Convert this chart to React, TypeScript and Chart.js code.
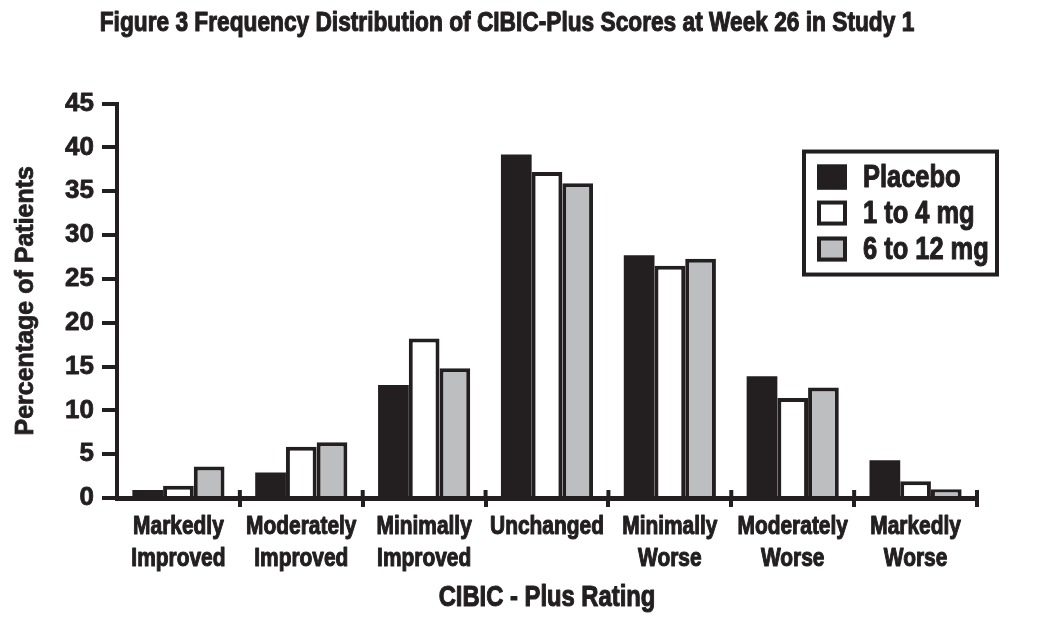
import React, { useEffect, useRef } from 'react';
import { Chart, registerables } from 'chart.js';

Chart.register(...registerables);

const TITLE = 'Figure 3 Frequency Distribution of CIBIC-Plus Scores at Week 26 in Study 1';
const CATEGORIES: (string | string[])[] = [
  ['Markedly', 'Improved'],
  ['Moderately', 'Improved'],
  ['Minimally', 'Improved'],
  'Unchanged',
  ['Minimally', 'Worse'],
  ['Moderately', 'Worse'],
  ['Markedly', 'Worse'],
];
const SERIES_NAMES = ['Placebo', '1 to 4 mg', '6 to 12 mg'];
const PLACEBO = [0.9, 2.9, 12.9, 39.2, 27.7, 13.9, 4.3];
const LOW_DOSE = [1.4, 5.85, 18.2, 37.2, 26.5, 11.4, 1.9];
const HIGH_DOSE = [3.6, 6.35, 14.8, 35.9, 27.3, 12.6, 1.0];
const Y_MIN = 0;
const Y_MAX = 45;
const Y_STEP = 5;
const X_TITLE = 'CIBIC - Plus Rating';
const Y_TITLE = 'Percentage of Patients';

const INK = '#231f20';
const GRAY = '#bcbec0';
const WHITE = '#ffffff';
// "Liberation Sans Narrow" is not installed; text in this family is drawn with
// Liberation Sans compressed horizontally (see installTextStyle).
const NARROW = '"Liberation Sans Narrow", "Liberation Sans", Arial, sans-serif';
const NARROW_FACTOR = 0.82;
const SANS = '"Liberation Sans", Arial, sans-serif';

function installTextStyle(ctx: any) {
  if (ctx.__textPatched) return;
  ctx.__textPatched = true;
  const origFill = ctx.fillText;
  ctx.fillText = function (text: string, x: number, y: number) {
    const narrow = String(this.font).indexOf('Narrow') !== -1;
    this.save();
    this.translate(x, y);
    if (narrow) this.scale(NARROW_FACTOR, 1);
    origFill.call(this, text, 0, 0);
    // a thin outline in the text colour gives the heavier weight of the original face
    this.strokeStyle = this.fillStyle;
    this.lineJoin = 'round';
    this.lineWidth = narrow ? 1.1 : 0.8;
    this.strokeText(text, 0, 0);
    this.restore();
  };
}

const tickStubs = {
  id: 'tickStubs',
  afterDatasetsDraw(chart: any) {
    const x = chart.scales.x;
    const { ctx } = chart;
    const n = x.ticks.length;
    ctx.save();
    ctx.strokeStyle = INK;
    ctx.lineWidth = 4;
    for (let i = 1; i <= n; i++) {
      const px = x.getPixelForValue(i - 0.5);
      ctx.beginPath();
      ctx.moveTo(px, x.top);
      ctx.lineTo(px, x.top - 8);
      ctx.stroke();
    }
    ctx.restore();
  },
};

const boxLegend = {
  id: 'boxLegend',
  afterDraw(chart: any) {
    const { ctx, chartArea } = chart;
    const w = 197;
    const h = 127;
    const right = chartArea.right + 22;
    const left = right - w;
    const top = chartArea.top + 46;
    ctx.save();
    ctx.fillStyle = WHITE;
    ctx.fillRect(left, top, w, h);
    ctx.strokeStyle = INK;
    ctx.lineWidth = 4;
    ctx.strokeRect(left + 2, top + 2, w - 4, h - 4);
    chart.data.datasets.forEach((ds: any, i: number) => {
      const cy = top + 27.5 + i * 36;
      const bx = left + 15;
      ctx.fillStyle = ds.backgroundColor;
      ctx.fillRect(bx, cy - 12.5, 30, 25);
      ctx.lineWidth = 4;
      ctx.strokeStyle = INK;
      ctx.strokeRect(bx + 2, cy - 10.5, 26, 21);
      ctx.fillStyle = INK;
      ctx.font = `bold 31px ${NARROW}`;
      ctx.textBaseline = 'middle';
      ctx.textAlign = 'left';
      ctx.fillText(ds.label, left + 61, cy + 1);
    });
    ctx.restore();
  },
};

export default function App() {
  const ref = useRef<HTMLCanvasElement | null>(null);

  useEffect(() => {
    document.body.style.margin = '0';
    const canvas = ref.current;
    if (!canvas) return;
    const ctx2d = canvas.getContext('2d');
    installTextStyle(ctx2d);
    const chart = new Chart(canvas, {
      type: 'bar',
      data: {
        labels: CATEGORIES as any,
        datasets: [
          { label: SERIES_NAMES[0], data: PLACEBO, backgroundColor: INK, borderColor: INK, borderWidth: 0, yAxisID: 'y' },
          { label: SERIES_NAMES[1], data: LOW_DOSE, backgroundColor: WHITE, borderColor: INK, borderWidth: 4, yAxisID: 'y' },
          { label: SERIES_NAMES[2], data: HIGH_DOSE, backgroundColor: GRAY, borderColor: INK, borderWidth: 4, yAxisID: 'y' },
        ],
      },
      options: {
        animation: false,
        responsive: false,
        layout: { padding: { left: 0, right: 34, top: 0, bottom: 0 } },
        datasets: { bar: { categoryPercentage: 0.75, barPercentage: 1 } } as any,
        plugins: {
          legend: { display: false },
          tooltip: { enabled: false },
          title: {
            display: true,
            text: TITLE,
            color: INK,
            font: { family: NARROW, size: 27.7, weight: 'bold', lineHeight: 1.2 },
            padding: { top: 7, bottom: 63.3 },
          },
        },
        scales: {
          x: {
            type: 'category',
            offset: true,
            z: 1,
            grid: {
              display: true,
              offset: true,
              drawOnChartArea: false,
              drawTicks: true,
              tickLength: 9,
              lineWidth: 4,
              color: (c: any) => (c.index === 0 ? 'rgba(0,0,0,0)' : INK),
            },
            border: { display: true, width: 5, color: INK },
            ticks: {
              color: INK,
              font: { family: NARROW, size: 25.5, weight: 'bold', lineHeight: 1.25 },
              padding: 4,
              maxRotation: 0,
              autoSkip: false,
            },
            title: {
              display: true,
              text: X_TITLE,
              color: INK,
              font: { family: NARROW, size: 29, weight: 'bold', lineHeight: 1.2 },
              padding: { top: 0, bottom: 8 },
            },
            afterFit: (s: any) => {
              s.height = 125;
            },
          },
          y: {
            type: 'linear',
            position: 'left',
            min: Y_MIN,
            max: Y_MAX,
            grid: {
              display: true,
              drawOnChartArea: false,
              drawTicks: true,
              tickLength: 15,
              lineWidth: 4,
              color: INK,
            },
            border: { display: true, width: 4, color: INK },
            ticks: {
              stepSize: Y_STEP,
              color: INK,
              font: { family: SANS, size: 26, weight: 'bold' },
              padding: 8,
            },
            title: {
              display: true,
              text: Y_TITLE,
              color: INK,
              font: { family: SANS, size: 25, weight: 'bold', lineHeight: 1.2 },
              padding: { top: 11, bottom: 0 },
            },
            afterFit: (s: any) => {
              s.width = 117;
            },
          },
          yR: {
            type: 'linear',
            position: 'right',
            display: true,
            grid: { display: false },
            border: { display: false },
            ticks: { display: false },
            afterFit: (s: any) => {
              s.width = 37;
            },
          },
        },
      } as any,
      plugins: [tickStubs, boxLegend],
    });
    return () => chart.destroy();
  }, []);

  return (
    <div style={{ width: 1048, height: 623, background: '#fff' }}>
      <canvas ref={ref} width={1048} height={623} style={{ display: 'block', width: 1048, height: 623 }} />
    </div>
  );
}
